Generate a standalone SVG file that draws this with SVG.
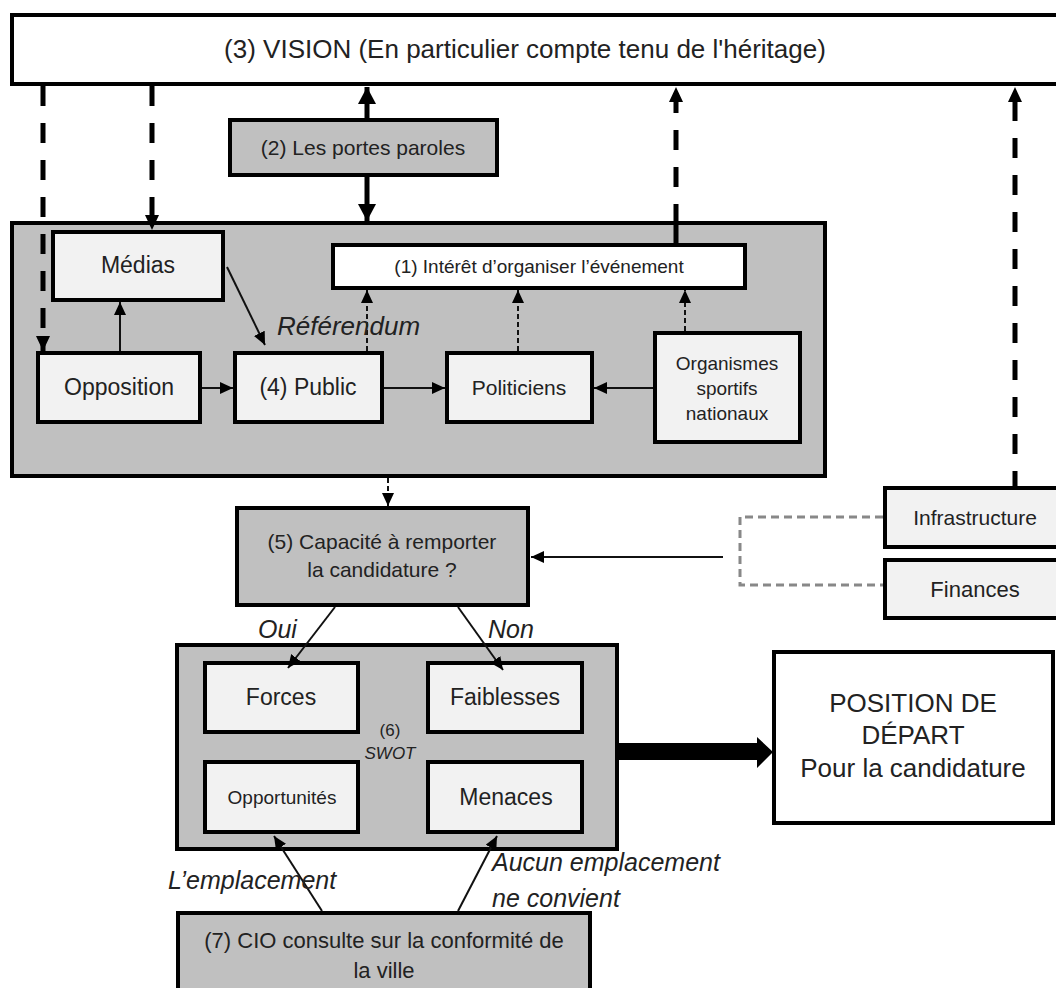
<svg xmlns="http://www.w3.org/2000/svg" width="1056" height="988" viewBox="0 0 1056 988">
<style>
  text { font-family: "Liberation Sans", Arial, sans-serif; fill: #222; }
  .c { text-anchor: middle; }
  .it { font-style: italic; }
  .box { stroke: #000; stroke-width: 4; }
  .white { fill: #ffffff; }
  .light { fill: #f2f2f2; }
  .gray { fill: #c0c0c0; }
  .thin { stroke: #111; stroke-width: 2; fill: none; }
  .thick { stroke: #000; stroke-width: 5; fill: none; }
  .dashThick { stroke: #000; stroke-width: 5; fill: none; stroke-dasharray: 20 17; }
  .dashSmall { stroke: #111; stroke-width: 2; fill: none; stroke-dasharray: 5 3; }
  .dashGray { stroke: #888; stroke-width: 3; fill: none; stroke-dasharray: 8 5; }
</style>
<defs>
  <marker id="aSmall" markerUnits="userSpaceOnUse" markerWidth="14" markerHeight="12" refX="13" refY="6" orient="auto">
    <path d="M0,0 L13,6 L0,12 z" fill="#000"/>
  </marker>
  <marker id="aBig" markerUnits="userSpaceOnUse" markerWidth="18" markerHeight="18" refX="17" refY="9" orient="auto">
    <path d="M0,0 L17,9 L0,18 z" fill="#000"/>
  </marker>
  <marker id="aMid" markerUnits="userSpaceOnUse" markerWidth="16" markerHeight="14" refX="15" refY="7" orient="auto">
    <path d="M0,0 L15,7 L0,14 z" fill="#000"/>
  </marker>
</defs>

<rect width="1056" height="988" fill="#ffffff"/>

<!-- Containers -->
<g id="vision">
  <rect class="box white" x="12" y="15" width="1060" height="69"/>
  <text class="c" x="525" y="58" font-size="26">(3) VISION (En particulier compte tenu de l'héritage)</text>
</g>

<g id="stakeholders">
  <rect class="box gray" x="12" y="223" width="813" height="253"/>
</g>

<g id="swot">
  <rect class="box gray" x="177" y="645" width="440" height="204"/>
  <text class="c" x="390" y="736" font-size="17">(6)</text>
  <text class="c it" x="390" y="759" font-size="17">SWOT</text>
</g>

<!-- Nodes -->
<g id="portes-paroles">
  <rect class="box gray" x="230" y="120" width="267" height="55"/>
  <text class="c" x="363" y="155" font-size="21">(2) Les portes paroles</text>
</g>

<g id="interet">
  <rect class="box white" x="333" y="245" width="412" height="43"/>
  <text class="c" x="539" y="273" font-size="19">(1) Intérêt d’organiser l’événement</text>
</g>

<g id="medias">
  <rect class="box light" x="53" y="232" width="170" height="68"/>
  <text class="c" x="138" y="273" font-size="23">Médias</text>
</g>

<g id="opposition">
  <rect class="box light" x="38" y="353" width="162" height="69"/>
  <text class="c" x="119" y="395" font-size="23">Opposition</text>
</g>

<g id="public">
  <rect class="box light" x="235" y="353" width="147" height="69"/>
  <text class="c" x="308" y="395" font-size="23">(4) Public</text>
</g>

<g id="politiciens">
  <rect class="box light" x="447" y="353" width="145" height="69"/>
  <text class="c" x="519" y="395" font-size="21">Politiciens</text>
</g>

<g id="organismes">
  <rect class="box light" x="655" y="333" width="145" height="109"/>
  <text class="c" x="727" y="370" font-size="19">Organismes</text>
  <text class="c" x="727" y="395" font-size="19">sportifs</text>
  <text class="c" x="727" y="420" font-size="19">nationaux</text>
</g>

<g id="capacite">
  <rect class="box gray" x="237" y="508" width="291" height="97"/>
  <text class="c" x="382" y="549" font-size="21">(5) Capacité à remporter</text>
  <text class="c" x="382" y="577" font-size="21">la candidature ?</text>
</g>

<g id="infrastructure">
  <rect class="box light" x="885" y="488" width="185" height="59"/>
  <text class="c" x="975" y="525" font-size="21">Infrastructure</text>
</g>

<g id="finances">
  <rect class="box light" x="885" y="560" width="185" height="58"/>
  <text class="c" x="975" y="597" font-size="22">Finances</text>
</g>

<g id="forces">
  <rect class="box light" x="205" y="663" width="153" height="69"/>
  <text class="c" x="281" y="705" font-size="23">Forces</text>
</g>

<g id="faiblesses">
  <rect class="box light" x="428" y="663" width="154" height="69"/>
  <text class="c" x="505" y="705" font-size="23">Faiblesses</text>
</g>

<g id="opportunites">
  <rect class="box light" x="205" y="762" width="153" height="70"/>
  <text class="c" x="282" y="804" font-size="19">Opportunités</text>
</g>

<g id="menaces">
  <rect class="box light" x="428" y="762" width="154" height="70"/>
  <text class="c" x="506" y="805" font-size="23">Menaces</text>
</g>

<g id="position">
  <rect class="box white" x="774" y="652" width="279" height="171"/>
  <text class="c" x="913" y="712" font-size="26">POSITION DE</text>
  <text class="c" x="913" y="744" font-size="26">DÉPART</text>
  <text class="c" x="913" y="777" font-size="26">Pour la candidature</text>
</g>

<g id="cio">
  <rect class="box gray" x="178" y="913" width="412" height="90"/>
  <text class="c" x="384" y="948" font-size="22">(7) CIO consulte sur la conformité de</text>
  <text class="c" x="384" y="978" font-size="22">la ville</text>
</g>

<!-- Connectors -->
<g id="connectors">
  <path class="dashThick" d="M43,86 L43,351" marker-end="url(#aMid)"/>
  <path class="dashThick" d="M152,86 L152,230" marker-end="url(#aMid)"/>
  <path class="thick" d="M367,118 L367,87" marker-end="url(#aBig)"/>
  <path class="thick" d="M367,177 L367,221" marker-end="url(#aBig)"/>
  <path class="thick" d="M676,243 L676,224"/>
  <path class="dashThick" d="M676,224 L676,87" marker-end="url(#aMid)"/>
  <path class="dashThick" d="M1015,486 L1015,87" style="stroke-dashoffset:5" marker-end="url(#aMid)"/>

  <path class="thin" d="M120,351 L120,302" marker-end="url(#aSmall)"/>
  <path class="thin" d="M227,267 L265,345" marker-end="url(#aSmall)"/>
  <path class="thin" d="M202,388 L233,388" marker-end="url(#aSmall)"/>
  <path class="thin" d="M384,388 L445,388" marker-end="url(#aSmall)"/>
  <path class="thin" d="M653,388 L594,388" marker-end="url(#aSmall)"/>

  <path class="dashSmall" d="M367,351 L367,290" marker-end="url(#aSmall)"/>
  <path class="dashSmall" d="M518,351 L518,290" marker-end="url(#aSmall)"/>
  <path class="dashSmall" d="M685,331 L685,290" marker-end="url(#aSmall)"/>

  <path class="dashSmall" d="M388,478 L388,506" marker-end="url(#aSmall)"/>

  <path class="dashGray" d="M883,517 L740,517 L740,585 L883,585"/>
  <path class="thin" d="M723,557 L531,557" marker-end="url(#aSmall)"/>

  <path class="thin" d="M335,607 L288,668" marker-end="url(#aSmall)"/>
  <path class="thin" d="M458,607 L503,670" marker-end="url(#aSmall)"/>

  <path d="M619,743 L757,743 L757,737 L773,752 L757,768 L757,760 L619,760 z" fill="#000"/>

  <path class="thin" d="M322,911 L274,836" marker-end="url(#aSmall)"/>
  <path class="thin" d="M458,911 L497,836" marker-end="url(#aSmall)"/>

  <text class="it" x="277" y="335" font-size="26">Référendum</text>
  <text class="it" x="258" y="638" font-size="25">Oui</text>
  <text class="it" x="488" y="638" font-size="25">Non</text>
  <text class="it" x="168" y="889" font-size="25">L’emplacement</text>
  <text class="it" x="492" y="871" font-size="25">Aucun emplacement</text>
  <text class="it" x="492" y="907" font-size="25">ne convient</text>
</g>
</svg>
